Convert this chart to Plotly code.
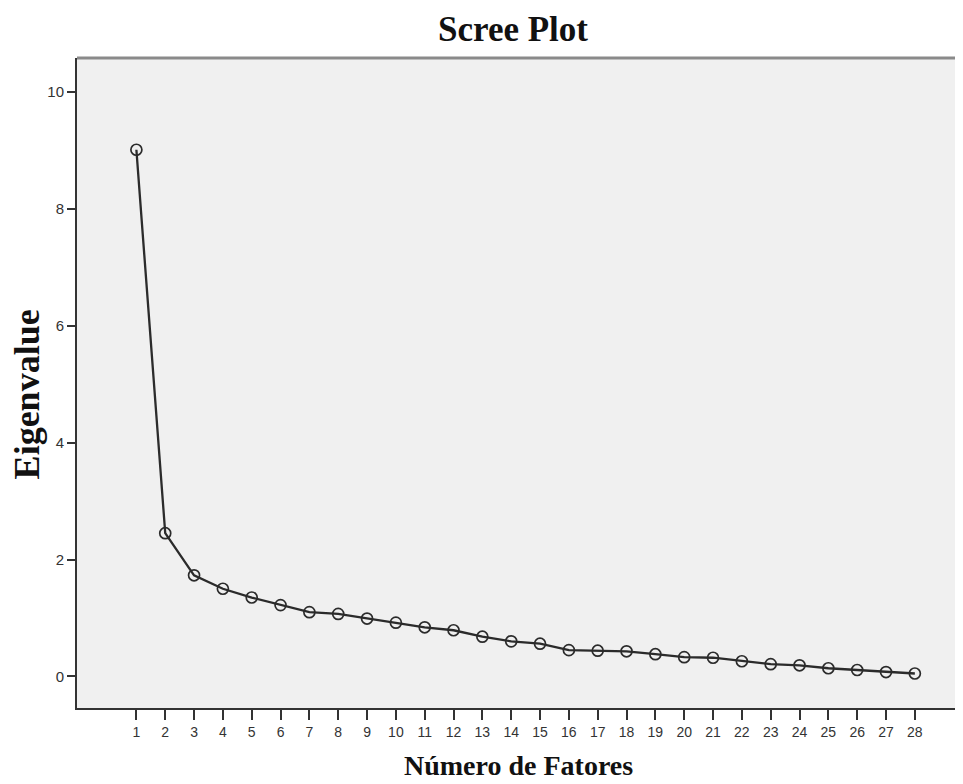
import plotly.graph_objects as go

# Data
factor_numbers = [1, 2, 3, 4, 5, 6, 7, 8, 9, 10, 11, 12, 13, 14,
                  15, 16, 17, 18, 19, 20, 21, 22, 23, 24, 25, 26, 27, 28]
eigenvalues = [9.01, 2.45, 1.73, 1.50, 1.35, 1.22, 1.10, 1.07, 0.99, 0.92,
               0.84, 0.79, 0.68, 0.60, 0.56, 0.45, 0.44, 0.43, 0.38, 0.33,
               0.32, 0.26, 0.21, 0.19, 0.14, 0.11, 0.075, 0.05]
y_tick_values = [0, 2, 4, 6, 8, 10]

title_text = "Scree Plot"
x_title = "Número de Fatores"
y_title = "Eigenvalue"

serif = "Liberation Serif, Times New Roman, serif"
sans = "Liberation Sans, Arial, sans-serif"

fig = go.Figure()
fig.add_trace(go.Scatter(
    x=factor_numbers,
    y=eigenvalues,
    mode="lines+markers",
    line=dict(color="#2b2b2b", width=2.3),
    marker=dict(symbol="circle-open", size=11, color="#2b2b2b",
                line=dict(width=1.7, color="#2b2b2b")),
    showlegend=False,
    hoverinfo="x+y",
))

fig.update_layout(
    width=955, height=776,
    paper_bgcolor="white",
    plot_bgcolor="#f0f0f0",
    margin=dict(l=69, r=0, t=50, b=76),
    xaxis=dict(
        range=[-1.06, 29.67],
        tickmode="array",
        tickvals=factor_numbers,
        ticktext=[str(v) for v in factor_numbers],
        showgrid=False, zeroline=False,
        showline=True, linecolor="#333", linewidth=2,
        ticks="outside", ticklen=10, tickwidth=2, tickcolor="#333",
        tickfont=dict(family=sans, size=14, color="#333"),
    ),
    yaxis=dict(
        range=[-0.54, 10.58],
        tickmode="array",
        tickvals=y_tick_values,
        ticktext=[str(v) for v in y_tick_values],
        showgrid=False, zeroline=False,
        showline=True, linecolor="#333", linewidth=2,
        ticks="outside", ticklen=8, tickwidth=2, tickcolor="#333",
        tickfont=dict(family=sans, size=15, color="#333"),
    ),
    shapes=[dict(type="line", xref="paper", yref="paper",
                 x0=0, x1=1, y0=1, y1=1,
                 line=dict(color="#8a8a8a", width=3))],
    annotations=[
        dict(text="<b>" + title_text + "</b>", xref="paper", yref="paper",
             x=0.492, y=1.0446, xanchor="center", yanchor="middle",
             showarrow=False, font=dict(family=serif, size=35, color="#111")),
        dict(text="<b>" + x_title + "</b>", xref="paper", yref="paper",
             x=0.498, y=-0.0887, xanchor="center", yanchor="middle",
             showarrow=False, font=dict(family=serif, size=28, color="#111")),
        dict(text="<b>" + y_title + "</b>", xref="paper", yref="paper",
             x=-0.0568, y=0.482, xanchor="center", yanchor="middle",
             textangle=-90,
             showarrow=False, font=dict(family=serif, size=36, color="#111")),
    ],
)

fig.write_html("out.html")
